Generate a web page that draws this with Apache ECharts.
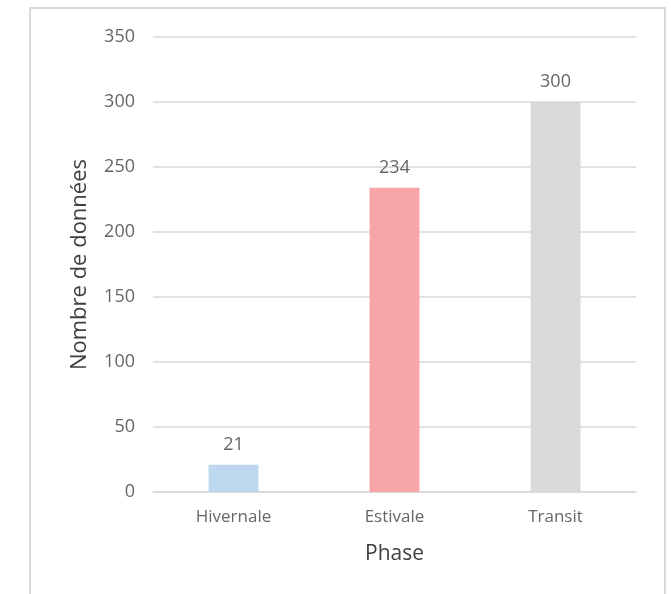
<!DOCTYPE html>
<html>
<head>
<meta charset="utf-8">
<script src="https://cdn.jsdelivr.net/npm/echarts@6/dist/echarts.min.js"></script>
<style>
  html, body { margin: 0; padding: 0; background: #fff; }
  #chart { width: 671px; height: 594px; }
</style>
</head>
<body>
<div id="chart"></div>
<script>
// données
const phases = ["Hivernale", "Estivale", "Transit"];
const nombres = [21, 234, 300];
const couleurs = ["#bdd7ee", "#f8a5a8", "#d9d9d9"];

let myChart = echarts.init(document.getElementById("chart"));

let option = {
    backgroundColor: "#fff",
    textStyle: { fontFamily: "Open Sans" },
    graphic: [
        {
            type: "rect",
            shape: { x: 30, y: 8, width: 635, height: 600 },
            style: { fill: "#fff", stroke: "#d9d9d9", lineWidth: 2 },
            z: -10
        }
    ],
    grid: { left: 153, right: 35, top: 37, bottom: 102 },
    xAxis: {
        type: "category",
        data: phases,
        name: "Phase",
        nameLocation: "middle",
        nameGap: 52,
        nameTextStyle: { fontSize: 21, color: "#404040" },
        axisLine: { lineStyle: { color: "#d9d9d9", width: 1.5 } },
        axisTick: { show: false },
        axisLabel: { fontSize: 17, color: "#666666", margin: 17 }
    },
    yAxis: {
        type: "value",
        min: 0,
        max: 350,
        interval: 50,
        name: "Nombre de données",
        nameLocation: "middle",
        nameGap: 62,
        nameTextStyle: { fontSize: 22, color: "#404040" },
        axisLine: { show: false },
        axisTick: { show: false },
        axisLabel: { fontSize: 18, color: "#666666", margin: 18 },
        splitLine: { lineStyle: { color: "#d9d9d9", width: 1.5 } }
    },
    series: [
        {
            type: "bar",
            data: nombres.map((v, i) => ({ value: v, itemStyle: { color: couleurs[i] } })),
            barWidth: "31%",
            label: {
                show: true,
                position: "top",
                distance: 11,
                fontSize: 18,
                color: "#666666"
            }
        }
    ]
};

myChart.setOption(option);
</script>
</body>
</html>
